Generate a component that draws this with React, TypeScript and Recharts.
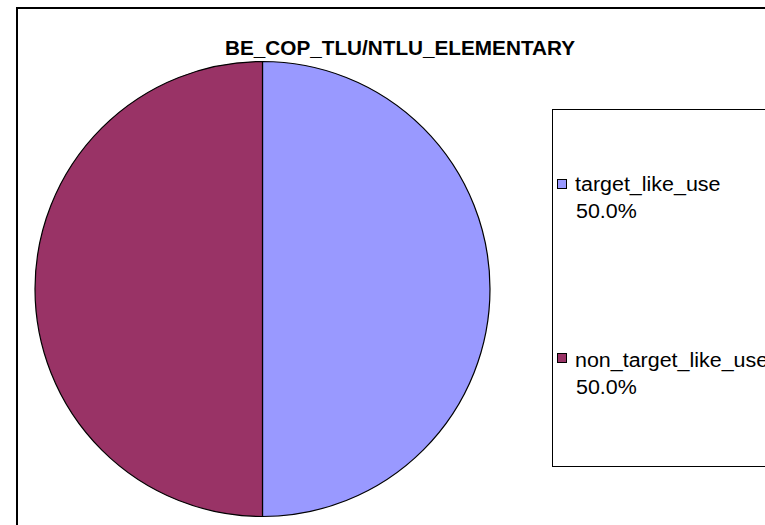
import React from 'react';
import { PieChart, Pie, Cell, Legend } from 'recharts';

const categories = ['target_like_use', 'non_target_like_use'];
const values = [50, 50];
const COLORS = ['#9999FF', '#993366'];
const TITLE = 'BE_COP_TLU/NTLU_ELEMENTARY';

const data = categories.map((name, i) => ({ name, value: values[i] }));
const total = values.reduce((a, b) => a + b, 0);

// top offsets (inside the legend box) for each entry's square / name / percent line
const LEGEND_ROWS = [
    { sq: 69, name: 64, pct: 90.5 },
    { sq: 243, name: 239.5, pct: 266.5 },
];

const stretched: React.CSSProperties = {
    position: 'absolute', whiteSpace: 'nowrap',
    transform: 'scaleX(1.1)', transformOrigin: 'left top'
};

const LegendBox = ({ payload }: any) => {
    const items = payload || [];
    return (
        <div style={{ position: 'relative', width: '100%', height: '100%', fontSize: 19.5, lineHeight: '20px' }}>
            {items.map((entry: any) => {
                const i = categories.indexOf(entry.value);
                if (i < 0) return null;
                const pct = ((values[i] / total) * 100).toFixed(1) + '%';
                const row = LEGEND_ROWS[i];
                return (
                    <React.Fragment key={`leg-${i}`}>
                        <span style={{
                            position: 'absolute', left: 4, top: row.sq, width: 8, height: 8,
                            background: COLORS[i], border: '1px solid #000'
                        }} />
                        <span style={{ ...stretched, left: 21.5, top: row.name }}>{entry.value}</span>
                        <span style={{ ...stretched, left: 23, top: row.pct }}>{pct}</span>
                    </React.Fragment>
                );
            })}
        </div>
    );
};

export default function App() {
    return (
        <div style={{ position: 'absolute', left: 0, top: 0, width: 765, height: 525, overflow: 'hidden', background: '#fff', fontFamily: '"Liberation Sans", Arial, sans-serif' }}>
            <div style={{
                position: 'absolute', left: 16, top: 7, width: 800, height: 600,
                borderLeft: '2px solid #000', borderTop: '2px solid #000', boxSizing: 'border-box'
            }} />
            <svg width={765} height={70} style={{ position: 'absolute', left: 0, top: 0 }}>
                <text x={225} y={55} textLength={350} lengthAdjust="spacingAndGlyphs"
                    fontFamily='"Liberation Sans", Arial, sans-serif' fontWeight="bold" fontSize={19.5} fill="#000">
                    {TITLE}
                </text>
            </svg>
            <PieChart width={765} height={525} margin={{ top: 0, right: 0, bottom: 0, left: 0 }}
                style={{ position: 'absolute', left: 0, top: 0 }}>
                <Pie
                    data={data}
                    dataKey="value"
                    nameKey="name"
                    cx={262.5}
                    cy={289}
                    outerRadius={227.5}
                    startAngle={90}
                    endAngle={-270}
                    stroke="#000"
                    strokeWidth={1.2}
                    isAnimationActive={false}
                >
                    {data.map((entry, index) => (
                        <Cell key={`cell-${index}`} fill={COLORS[index]} />
                    ))}
                </Pie>
                <Legend
                    layout="vertical"
                    content={<LegendBox />}
                    wrapperStyle={{
                        position: 'absolute', left: 552, top: 109, width: 240, height: 358,
                        border: '1px solid #000', background: '#fff',
                        fontFamily: '"Liberation Sans", Arial, sans-serif', color: '#000', boxSizing: 'border-box'
                    }}
                />
            </PieChart>
        </div>
    );
}
